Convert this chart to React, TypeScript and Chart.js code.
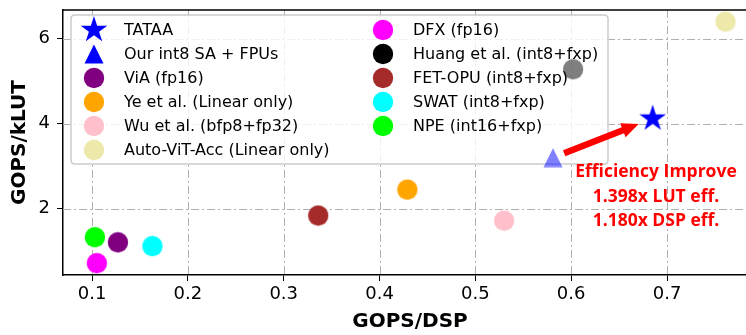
import React, { useEffect, useRef } from "react";
import { Chart, registerables } from "chart.js";

Chart.register(...registerables);

// ---- data ----
const seriesNames = [
  "TATAA",
  "Our int8 SA + FPUs",
  "ViA (fp16)",
  "Ye et al. (Linear only)",
  "Wu et al. (bfp8+fp32)",
  "Auto-ViT-Acc (Linear only)",
  "DFX (fp16)",
  "Huang et al. (int8+fxp)",
  "FET-OPU (int8+fxp)",
  "SWAT (int8+fxp)",
  "NPE (int16+fxp)",
];
const gopsPerDsp = [0.685, 0.581, 0.127, 0.429, 0.53, 0.761, 0.105, 0.602, 0.336, 0.163, 0.103];
const gopsPerKlut = [4.12, 3.2, 1.21, 2.45, 1.72, 6.4, 0.72, 5.28, 1.84, 1.12, 1.33];
const markerShapes = ["star", "triangle", "circle", "circle", "circle", "circle", "circle", "circle", "circle", "circle", "circle"];
const pointColors = [
  "#0000ff",
  "rgba(0,0,255,0.5)",
  "#800080",
  "#ffa500",
  "#ffc0cb",
  "#eee8aa",
  "#ff00ff",
  "rgba(0,0,0,0.5)",
  "#a52a2a",
  "#00ffff",
  "#00ff00",
];
const legendColors = [
  "#0000ff",
  "#0000ff",
  "#800080",
  "#ffa500",
  "#ffc0cb",
  "#eee8aa",
  "#ff00ff",
  "#000000",
  "#a52a2a",
  "#00ffff",
  "#00ff00",
];
const xTickValues = [0.1, 0.2, 0.3, 0.4, 0.5, 0.6, 0.7];
const yTickValues = [2, 4, 6];
const xRange = [0.0697, 0.7939];
const yRange = [0.442, 6.674];
const xTitle = "GOPS/DSP";
const yTitle = "GOPS/kLUT";
const annotationLines = ["Efficiency Improve", "1.398x LUT eff.", "1.180x DSP eff."];
const annotationAnchor = [0.6885, 2.88];
const arrowFromIndex = 1;
const arrowToIndex = 0;

const CANVAS_W = 746;
const CANVAS_H = 335;
const PLOT_RIGHT = 757; // plot area extends past the cropped right edge

// ---- marker helpers ----
function makeMarker(shape: string, color: string): HTMLCanvasElement {
  const c = document.createElement("canvas");
  const ctx = c.getContext("2d")!;
  if (shape === "star") {
    c.width = 30;
    c.height = 30;
    const R = 14;
    const r = R * 0.382;
    ctx.beginPath();
    for (let i = 0; i < 10; i++) {
      const rad = i % 2 === 0 ? R : r;
      const a = (Math.PI / 5) * i - Math.PI / 2;
      const px = 15 + rad * Math.cos(a);
      const py = 15 + rad * Math.sin(a);
      if (i === 0) ctx.moveTo(px, py);
      else ctx.lineTo(px, py);
    }
    ctx.closePath();
    ctx.fillStyle = color;
    ctx.fill();
  } else if (shape === "triangle") {
    c.width = 20;
    c.height = 20;
    ctx.beginPath();
    ctx.moveTo(10, 0.5);
    ctx.lineTo(19.5, 19.5);
    ctx.lineTo(0.5, 19.5);
    ctx.closePath();
    ctx.fillStyle = color;
    ctx.fill();
  } else {
    c.width = 22;
    c.height = 22;
    ctx.beginPath();
    ctx.arc(11, 11, 10.2, 0, Math.PI * 2);
    ctx.fillStyle = color;
    ctx.fill();
  }
  return c;
}

const overlayPlugin = {
  id: "overlay",
  afterLayout(chart: any) {
    const a = chart.chartArea;
    a.right = PLOT_RIGHT;
    a.width = a.right - a.left;
    const xs = chart.scales.x;
    xs.right = PLOT_RIGHT;
    xs.width = xs.right - xs.left;
    xs.configure();
  },
  beforeDatasetsDraw(chart: any) {
    const ctx = chart.ctx as CanvasRenderingContext2D;
    const { left, right, top, bottom } = chart.chartArea;
    const xs = chart.scales.x;
    const ys = chart.scales.y;
    ctx.save();
    // dash-dot grid
    ctx.strokeStyle = "#b0b0b0";
    ctx.lineWidth = 1;
    ctx.setLineDash([8, 3, 2, 3]);
    xTickValues.forEach((v) => {
      const px = Math.round(xs.getPixelForValue(v)) + 0.5;
      ctx.beginPath();
      ctx.moveTo(px, top);
      ctx.lineTo(px, bottom);
      ctx.stroke();
    });
    yTickValues.forEach((v) => {
      const py = Math.round(ys.getPixelForValue(v)) + 0.5;
      ctx.beginPath();
      ctx.moveTo(left, py);
      ctx.lineTo(right, py);
      ctx.stroke();
    });
    ctx.setLineDash([]);
    // legend frame
    const lx = 71, ly = 15, lw = 537, lh = 149, rr = 4;
    ctx.beginPath();
    ctx.moveTo(lx + rr, ly);
    ctx.lineTo(lx + lw - rr, ly);
    ctx.quadraticCurveTo(lx + lw, ly, lx + lw, ly + rr);
    ctx.lineTo(lx + lw, ly + lh - rr);
    ctx.quadraticCurveTo(lx + lw, ly + lh, lx + lw - rr, ly + lh);
    ctx.lineTo(lx + rr, ly + lh);
    ctx.quadraticCurveTo(lx, ly + lh, lx, ly + lh - rr);
    ctx.lineTo(lx, ly + rr);
    ctx.quadraticCurveTo(lx, ly, lx + rr, ly);
    ctx.closePath();
    ctx.fillStyle = "rgba(255,255,255,0.8)";
    ctx.fill();
    ctx.strokeStyle = "rgb(204,204,204)";
    ctx.lineWidth = 1.5;
    ctx.stroke();
    ctx.restore();
  },
  afterDatasetsDraw(chart: any) {
    const ctx = chart.ctx as CanvasRenderingContext2D;
    const { left, right, top, bottom } = chart.chartArea;
    const xs = chart.scales.x;
    const ys = chart.scales.y;
    ctx.save();

    // legend entries
    ctx.font = "16px 'DejaVu Sans'";
    ctx.fillStyle = "#000";
    ctx.textBaseline = "alphabetic";
    ctx.textAlign = "left";
    seriesNames.forEach((name, i) => {
      const col = i < 6 ? 0 : 1;
      const row = i < 6 ? i : i - 6;
      const mx = col === 0 ? 94 : 383;
      const tx = col === 0 ? 124 : 413;
      const my = 30 + 24 * row;
      const m = makeMarker(markerShapes[i], legendColors[i]);
      ctx.drawImage(m, mx - m.width / 2, my - m.height / 2);
      ctx.fillStyle = "#000";
      ctx.fillText(name, tx, 35 + 24 * row);
    });

    // arrow
    const x0 = xs.getPixelForValue(gopsPerDsp[arrowFromIndex]);
    const y0 = ys.getPixelForValue(gopsPerKlut[arrowFromIndex]);
    const x1 = xs.getPixelForValue(gopsPerDsp[arrowToIndex]);
    const y1 = ys.getPixelForValue(gopsPerKlut[arrowToIndex]);
    const dx = x1 - x0, dy = y1 - y0;
    const len = Math.hypot(dx, dy);
    const ux = dx / len, uy = dy / len;
    const nx = -uy, ny = ux;
    const sx = x0 + ux * 12, sy = y0 + uy * 12;
    const ex = x1 - ux * 15, ey = y1 - uy * 15;
    const headLen = 17, headW = 7.5, shaftW = 3.2;
    const bx = ex - ux * headLen, by = ey - uy * headLen;
    ctx.beginPath();
    ctx.moveTo(sx + nx * shaftW, sy + ny * shaftW);
    ctx.lineTo(bx + nx * shaftW, by + ny * shaftW);
    ctx.lineTo(bx + nx * headW, by + ny * headW);
    ctx.lineTo(ex, ey);
    ctx.lineTo(bx - nx * headW, by - ny * headW);
    ctx.lineTo(bx - nx * shaftW, by - ny * shaftW);
    ctx.lineTo(sx - nx * shaftW, sy - ny * shaftW);
    ctx.closePath();
    ctx.fillStyle = "#ff0000";
    ctx.fill();

    // annotation
    const ax = xs.getPixelForValue(annotationAnchor[0]);
    const ay = ys.getPixelForValue(annotationAnchor[1]);
    ctx.font = "bold 17.5px 'Open Sans'";
    ctx.textAlign = "center";
    ctx.textBaseline = "alphabetic";
    ctx.fillStyle = "#ff0000";
    annotationLines.forEach((t, i) => {
      ctx.fillText(t, ax, ay + 6 + 24.5 * i);
    });

    // top/right spines
    ctx.strokeStyle = "#000";
    ctx.lineWidth = 1.5;
    ctx.beginPath();
    ctx.moveTo(left, top);
    ctx.lineTo(right, top);
    ctx.lineTo(right, bottom);
    ctx.stroke();

    // axis titles
    ctx.fillStyle = "#000";
    ctx.font = "bold 20px 'DejaVu Sans'";
    ctx.textAlign = "center";
    ctx.textBaseline = "middle";
    ctx.fillText(xTitle, (left + right) / 2, 322);
    ctx.translate(20, (top + bottom) / 2);
    ctx.rotate(-Math.PI / 2);
    ctx.fillText(yTitle, 0, 0);
    ctx.restore();
  },
};

export default function App() {
  const ref = useRef<HTMLCanvasElement | null>(null);
  useEffect(() => {
    if (!ref.current) return;
    const datasets = seriesNames.map((name, i) => ({
      label: name,
      data: [{ x: gopsPerDsp[i], y: gopsPerKlut[i] }],
      pointStyle: makeMarker(markerShapes[i], pointColors[i]) as any,
      pointRadius: 10,
      pointHoverRadius: 10,
      pointBorderWidth: 0,
      backgroundColor: pointColors[i],
      borderWidth: 0,
      showLine: false,
    }));
    const chart = new Chart(ref.current, {
      type: "scatter",
      data: { datasets },
      options: {
        animation: false,
        responsive: false,
        maintainAspectRatio: false,
        devicePixelRatio: 1,
        layout: { padding: { top: 7, right: 0, left: 0, bottom: 0 } },
        plugins: { legend: { display: false }, tooltip: { enabled: false } },
        scales: {
          x: {
            type: "linear",
            min: xRange[0],
            max: xRange[1],
            afterBuildTicks: (s: any) => {
              s.ticks = xTickValues.map((v) => ({ value: v }));
            },
            afterFit: (s: any) => {
              s.height = 60;
              s.paddingLeft = 0;
              s.paddingRight = 0;
              s.paddingTop = 0;
              s.paddingBottom = 0;
            },
            ticks: {
              callback: (v: any) => Number(v).toFixed(1),
              font: { family: "DejaVu Sans", size: 18 },
              color: "#000",
              padding: 3,
              maxRotation: 0,
              autoSkip: false,
            },
            grid: { drawOnChartArea: false, drawTicks: true, tickLength: 6, tickColor: "#000", tickWidth: 1 },
            border: { display: true, color: "#000", width: 1.5 },
          },
          y: {
            type: "linear",
            min: yRange[0],
            max: yRange[1],
            afterBuildTicks: (s: any) => {
              s.ticks = yTickValues.map((v) => ({ value: v }));
            },
            afterFit: (s: any) => {
              s.width = 63;
              s.paddingLeft = 0;
              s.paddingRight = 0;
              s.paddingTop = 0;
              s.paddingBottom = 0;
            },
            ticks: {
              callback: (v: any) => String(v),
              font: { family: "DejaVu Sans", size: 18 },
              color: "#000",
              padding: 7,
              autoSkip: false,
            },
            grid: { drawOnChartArea: false, drawTicks: true, tickLength: 6, tickColor: "#000", tickWidth: 1 },
            border: { display: true, color: "#000", width: 1.5 },
          },
        },
      },
      plugins: [overlayPlugin],
    });
    return () => chart.destroy();
  }, []);
  return (
    <div
      style={{
        position: "fixed",
        left: 0,
        top: 0,
        width: CANVAS_W,
        height: CANVAS_H,
        overflow: "hidden",
        background: "#fff",
      }}
    >
      <canvas
        ref={ref}
        width={CANVAS_W}
        height={CANVAS_H}
        style={{ display: "block", width: CANVAS_W, height: CANVAS_H }}
      />
    </div>
  );
}
